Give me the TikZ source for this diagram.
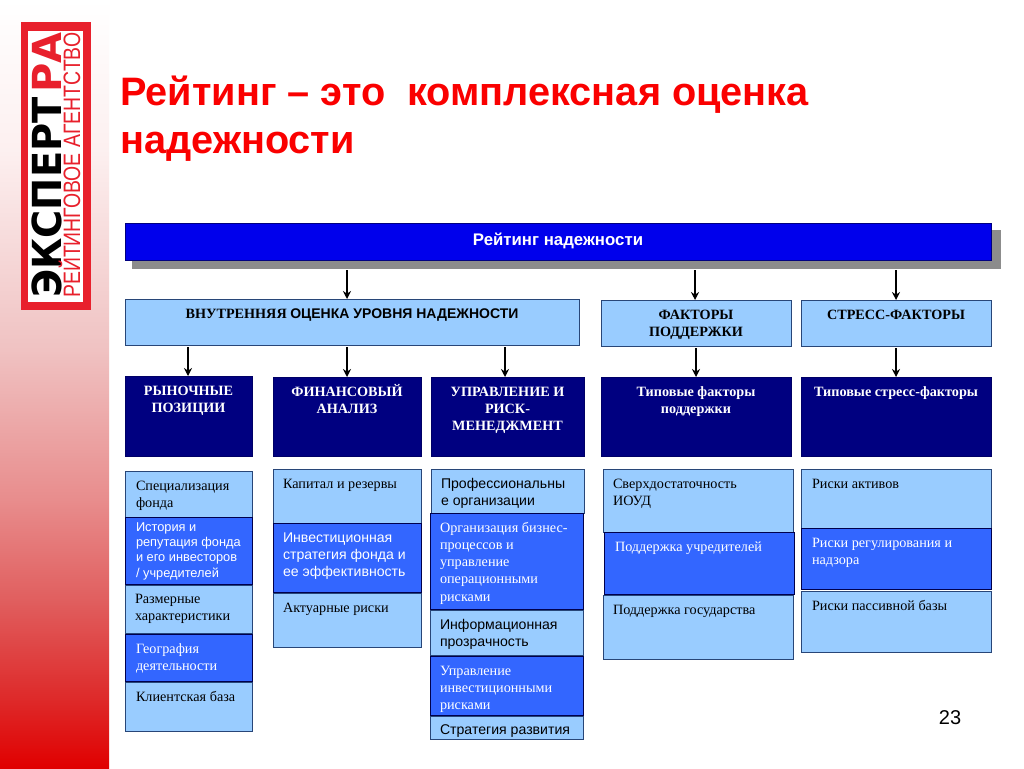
\documentclass[tikz,border=0pt]{standalone}
\usepackage{fontspec}
\setmainfont{Liberation Serif}
\newfontfamily\arialfont{Liberation Sans}
\newfontfamily\logofont{DejaVu Sans}
\usetikzlibrary{arrows.meta}
\definecolor{titlered}{RGB}{250,0,0}
\definecolor{logored}{RGB}{232,32,44}
\definecolor{topblue}{RGB}{0,0,236}
\definecolor{paleblue}{RGB}{153,204,255}
\definecolor{midblue}{RGB}{51,102,255}
\definecolor{darkblue}{RGB}{0,0,128}
\definecolor{edgeblue}{RGB}{40,70,120}
\pgfdeclareverticalshading{stripshade}{100bp}{rgb(0bp)=(.88,0,0); rgb(25bp)=(.88,0,0); rgb(29.4bp)=(.87,.16,.16); rgb(35.9bp)=(.88,.37,.37); rgb(42.4bp)=(.91,.55,.55); rgb(52.2bp)=(.94,.76,.76); rgb(65.2bp)=(.99,.94,.94); rgb(75bp)=(1,1,1); rgb(100bp)=(1,1,1)}
\tikzset{
  headbox/.style={draw=edgeblue,line width=1pt,fill=paleblue,text=black},
  darkbox/.style={draw=darkblue!80!black,line width=.6pt,fill=darkblue,text=white},
  lightbox/.style={draw=edgeblue,line width=.9pt,fill=paleblue,text=black},
  strongbox/.style={draw=black!70!blue,line width=.8pt,fill=midblue,text=white},
  arrowline/.style={-{Stealth[length=8pt,width=8pt]},line width=1.3pt},
}
% block at top left corner (x,y), size w x h, first baseline at gap+10 below the top
\newcommand{\blockat}[9]{%
  \path (#2,#3) node[#1,anchor=north west,inner sep=0pt,outer sep=0pt,minimum width=#4pt,minimum height=#5pt] (#6)
    {\parbox[c][#5pt][t]{#4pt}{\leftskip=#7pt \rightskip=0pt plus 1fil \parindent=0pt \vspace{\dimexpr#8pt-3pt\relax}\rule{0pt}{13pt}#9}};}
\newcommand{\headtext}[1]{\centering\bfseries\fontsize{14.2}{17.4}\selectfont #1}
\newcommand{\serifsmall}{\fontsize{14.2}{17.3}\selectfont}
\newcommand{\sanssmall}{\arialfont\fontsize{14.1}{17}\selectfont}
\begin{document}
\begin{tikzpicture}[x=1pt,y=-1pt]
\useasboundingbox (0,0) rectangle (1024,768);
\fill[white] (0,0) rectangle (1024,768);
% left strip
\shade[shading=stripshade] (0,0) rectangle (109,768);
% logo
\fill[logored] (21,22) rectangle (91,310);
\fill[white] (28,31) rectangle (83,302);
\path (61,298) node[rotate=90,anchor=base west,inner sep=0pt,xscale=.96,font=\logofont\bfseries\fontsize{40}{40}\selectfont] (logoname) {ЭКСПЕРТ};
\path (61,93) node[rotate=90,anchor=base west,inner sep=0pt,text=logored,font=\logofont\bfseries\fontsize{40}{40}\selectfont] (logora) {РА};
\path (80,298) node[rotate=90,anchor=base west,inner sep=0pt,xscale=.82,text=logored,font=\arialfont\fontsize{23.7}{24}\selectfont] (logosub) {РЕЙТИНГОВОЕ АГЕНТСТВО};
% title
\path (120,76) node[anchor=north west,inner sep=0pt,align=left,text=titlered,font=\arialfont\bfseries\fontsize{39.7}{48}\selectfont] (title)
  {Рейтинг – это\ \ комплексная оценка\\надежности};
\path (950,718) node[inner sep=0pt,font=\arialfont\fontsize{20}{20}\selectfont] (pagenum) {23};
% top bar
\fill[black!45] (132,230) rectangle (1001,269);
\path (125,223) node[draw=darkblue,line width=1pt,fill=topblue,anchor=north west,minimum width=866pt,minimum height=37pt,inner sep=0pt,outer sep=0pt] (rating) {};
\path (558,245) node[anchor=base,inner sep=0pt,text=white,font=\arialfont\bfseries\fontsize{16.8}{18}\selectfont] (ratingtext) {Рейтинг надежности};
% second level
\blockat{headbox}{125}{299}{454}{46}{internal}{0}{9}{\headtext{ВНУТРЕННЯЯ {\arialfont\fontsize{14}{17}\selectfont ОЦЕНКА УРОВНЯ НАДЕЖНОСТИ}}}
\blockat{headbox}{601}{300}{190}{46}{support}{0}{9}{\headtext{ФАКТОРЫ\\ПОДДЕРЖКИ}}
\blockat{headbox}{801}{300}{190}{46}{stress}{0}{9}{\headtext{СТРЕСС-ФАКТОРЫ}}
% third level
\blockat{darkbox}{125}{376}{127}{80}{market}{0}{9}{\headtext{РЫНОЧНЫЕ\\ПОЗИЦИИ}}
\blockat{darkbox}{273}{377}{148}{79}{finance}{0}{9}{\headtext{ФИНАНСОВЫЙ\\АНАЛИЗ}}
\blockat{darkbox}{431}{377}{153}{79}{manage}{0}{9}{\headtext{УПРАВЛЕНИЕ И\\РИСК-\\МЕНЕДЖМЕНТ}}
\blockat{darkbox}{601}{377}{190}{79}{typsupport}{0}{9}{\headtext{Типовые факторы\\поддержки}}
\blockat{darkbox}{801}{377}{190}{79}{typstress}{0}{9}{\headtext{Типовые стресс-факторы}}
% market column
\blockat{lightbox}{125}{471}{127}{46}{specfund}{11}{9}{\serifsmall Специализация\\фонда}
\blockat{strongbox}{125}{517}{127}{67}{history}{11}{4}{\arialfont\fontsize{12.8}{15.4}\selectfont История и\\репутация фонда\\и его инвесторов\\/ учредителей}
\blockat{lightbox}{125}{585}{127}{48}{sizes}{10}{8}{\serifsmall Размерные\\характеристики}
\blockat{strongbox}{125}{634}{127}{47}{geo}{11}{9}{\serifsmall География\\деятельности}
\blockat{lightbox}{125}{682}{127}{49}{clients}{11}{9}{\serifsmall Клиентская база}
% finance column
\blockat{lightbox}{273}{469}{148}{54}{capital}{10}{9}{\serifsmall Капитал и резервы}
\blockat{strongbox}{273}{523}{148}{69}{invest}{10}{9}{\sanssmall Инвестиционная\\стратегия фонда и\\ее эффективность}
\blockat{lightbox}{273}{593}{148}{54}{actuar}{10}{9}{\serifsmall Актуарные риски}
% management column
\blockat{lightbox}{431}{469}{153}{44}{prof}{10}{9}{\sanssmall Профессиональны\\е организации}
\blockat{strongbox}{430}{513}{153}{96}{orgproc}{10}{9}{\serifsmall Организация бизнес-\\процессов и\\управление\\операционными\\рисками}
\blockat{lightbox}{430}{610}{153}{45}{infotrans}{10}{9}{\sanssmall Информационная\\прозрачность}
\blockat{strongbox}{430}{656}{153}{59}{investrisk}{10}{9}{\serifsmall Управление\\инвестиционными\\рисками}
\blockat{lightbox}{430}{716}{153}{23}{strategy}{10}{8}{\sanssmall Стратегия развития}
% support column
\blockat{lightbox}{603}{469}{190}{63}{surplus}{10}{9}{\serifsmall Сверхдостаточность\\ИОУД}
\blockat{strongbox}{604}{532}{190}{62}{founders}{11}{9}{\serifsmall Поддержка учредителей}
\blockat{lightbox}{603}{595}{190}{64}{state}{10}{9}{\serifsmall Поддержка государства}
% stress column
\blockat{lightbox}{801}{469}{190}{59}{assets}{11}{9}{\serifsmall Риски активов}
\blockat{strongbox}{801}{528}{190}{61}{regul}{11}{9}{\serifsmall Риски регулирования и\\надзора}
\blockat{lightbox}{801}{591}{190}{61}{liabil}{11}{9}{\serifsmall Риски пассивной базы}
% arrows
\coordinate (fromA) at (347,270);
\coordinate (fromB) at (695,270);
\coordinate (fromC) at (896,270);
\coordinate (fromD) at (188,347);
\coordinate (fromE) at (347,347);
\coordinate (fromF) at (505,347);
\coordinate (fromG) at (696,348);
\coordinate (fromH) at (896,348);
\draw[arrowline] (fromA) -- (fromA |- internal.north);
\draw[arrowline] (fromB) -- (fromB |- support.north);
\draw[arrowline] (fromC) -- (fromC |- stress.north);
\draw[arrowline] (fromD) -- (fromD |- market.north);
\draw[arrowline] (fromE) -- (fromE |- finance.north);
\draw[arrowline] (fromF) -- (fromF |- manage.north);
\draw[arrowline] (fromG) -- (fromG |- typsupport.north);
\draw[arrowline] (fromH) -- (fromH |- typstress.north);
\end{tikzpicture}
\end{document}
